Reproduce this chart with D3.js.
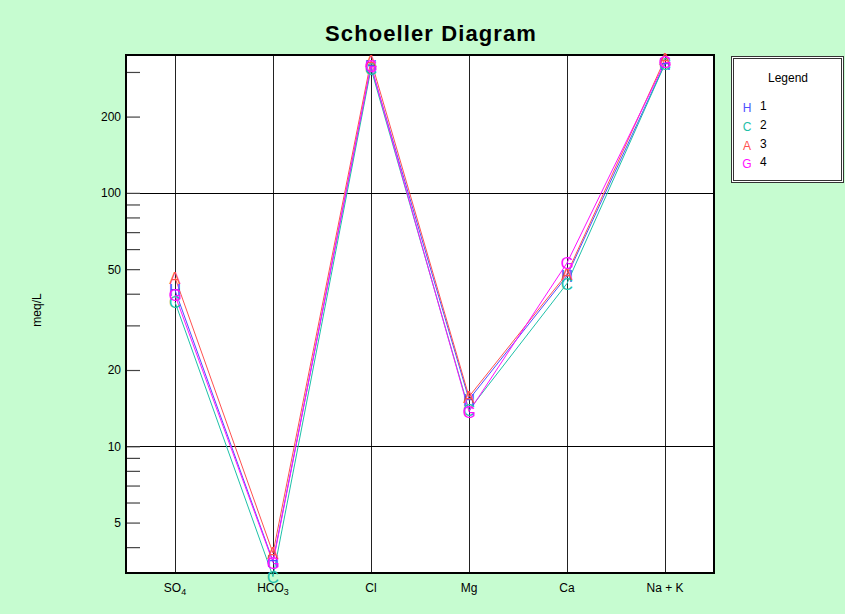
<!DOCTYPE html>
<html>
<head>
<meta charset="utf-8">
<script src="https://cdn.jsdelivr.net/npm/d3@7"></script>
<style>
  html, body { margin: 0; padding: 0; background: #c6fcd0; }
  svg { display: block; font-family: "Liberation Sans", Arial, sans-serif; }
</style>
</head>
<body>
<svg id="chart" width="845" height="614"></svg>
<script>
// ---- data ----
const categories = ["SO4", "HCO3", "Cl", "Mg", "Ca", "Na + K"];
const categoryMain = ["SO", "HCO", "Cl", "Mg", "Ca", "Na + K"];
const categorySub = ["4", "3", "", "", "", ""];
const seriesNames = ["1", "2", "3", "4"];
const seriesMarkers = ["H", "C", "A", "G"];
const seriesColors = ["#4f4fff", "#1ec0a8", "#ff5050", "#ff10ff"];
const series1 = [41.3, 3.52, 316, 15.3, 47.0, 324];
const series2 = [37.1, 3.06, 309, 13.9, 43.9, 323];
const series3 = [46.3, 3.79, 333, 15.7, 48.0, 338];
const series4 = [39.5, 3.48, 318, 13.7, 52.9, 328];
const allSeries = [series1, series2, series3, series4];
const tickValues = [4, 5, 6, 7, 8, 9, 10, 20, 30, 40, 50, 60, 70, 80, 90, 100, 200, 300];
const labeledTicks = [5, 10, 20, 50, 100, 200];
const gridValues = [10, 100];
const yDomain = [Math.sqrt(10), 350];

// ---- layout ----
const svg = d3.select("#chart");
const plot = { left: 126, right: 714, top: 55, bottom: 573 };

const x = d3.scalePoint().domain(categories).range([plot.left, plot.right]).padding(0.5);
const y = d3.scaleLog().domain(yDomain).range([plot.bottom, plot.top]);

// background
svg.append("rect").attr("x", 0).attr("y", 0).attr("width", 845).attr("height", 614).attr("fill", "#c6fcd0");

// plot area
svg.append("rect")
  .attr("x", plot.left).attr("y", plot.top)
  .attr("width", plot.right - plot.left).attr("height", plot.bottom - plot.top)
  .attr("fill", "#ffffff");

// vertical grid lines
svg.append("g").selectAll("line").data(categories).join("line")
  .attr("x1", d => Math.round(x(d)) + 0.5).attr("x2", d => Math.round(x(d)) + 0.5)
  .attr("y1", plot.top).attr("y2", plot.bottom)
  .attr("stroke", "#222").attr("stroke-width", 1);

// horizontal grid lines
svg.append("g").selectAll("line").data(gridValues).join("line")
  .attr("x1", plot.left).attr("x2", plot.right)
  .attr("y1", d => Math.round(y(d)) + 0.5).attr("y2", d => Math.round(y(d)) + 0.5)
  .attr("stroke", "#000").attr("stroke-width", 1);

// y axis
const yAxis = d3.axisLeft(y)
  .tickValues(tickValues)
  .tickSizeInner(-14)
  .tickSizeOuter(0)
  .tickPadding(5)
  .tickFormat(d => labeledTicks.includes(d) ? String(d) : "");
const gy = svg.append("g").attr("transform", `translate(${plot.left},0)`).call(yAxis);
gy.select(".domain").remove();
gy.selectAll(".tick line").attr("stroke", "#444").attr("stroke-width", 1.2);
gy.selectAll(".tick text").attr("fill", "#000").attr("font-size", 12)
  .attr("font-family", "'Liberation Sans', Arial, sans-serif");

// x axis labels
const xl = svg.append("g").selectAll("text").data(categories).join("text")
  .attr("x", d => x(d)).attr("y", 592)
  .attr("text-anchor", "middle").attr("font-size", 12).attr("fill", "#000");
xl.append("tspan").text((d, i) => categoryMain[i]);
xl.append("tspan").attr("font-size", 9).attr("dy", 3).text((d, i) => categorySub[i]);

// plot border
svg.append("rect")
  .attr("x", plot.left).attr("y", plot.top)
  .attr("width", plot.right - plot.left).attr("height", plot.bottom - plot.top)
  .attr("fill", "none").attr("stroke", "#000").attr("stroke-width", 2);

// series lines
const line = d3.line().x((d, i) => x(categories[i])).y(d => y(d));
allSeries.forEach((s, k) => {
  svg.append("path").datum(s)
    .attr("d", line)
    .attr("fill", "none")
    .attr("stroke", seriesColors[k])
    .attr("stroke-width", 1);
});
// series markers
allSeries.forEach((s, k) => {
  svg.append("g").selectAll("text").data(s).join("text")
    .attr("x", (d, i) => x(categories[i]))
    .attr("y", d => y(d))
    .attr("dy", "0.36em")
    .attr("text-anchor", "middle")
    .attr("font-size", 17)
    .attr("fill", seriesColors[k])
    .text(seriesMarkers[k]);
});

// title
svg.append("text")
  .attr("x", 431).attr("y", 41)
  .attr("text-anchor", "middle")
  .attr("font-size", 22).attr("font-weight", "bold")
  .attr("letter-spacing", 1.1)
  .attr("fill", "#000")
  .text("Schoeller Diagram");

// y label
svg.append("text")
  .attr("transform", "translate(41,310) rotate(-90)")
  .attr("text-anchor", "middle")
  .attr("font-size", 12).attr("fill", "#000")
  .text("meq/L");

// legend
const lg = svg.append("g");
lg.append("rect").attr("x", 731.5).attr("y", 56.5).attr("width", 112).attr("height", 126)
  .attr("fill", "#fff").attr("stroke", "#333").attr("stroke-width", 1);
lg.append("rect").attr("x", 733.5).attr("y", 58.5).attr("width", 108).attr("height", 122)
  .attr("fill", "none").attr("stroke", "#333").attr("stroke-width", 1);
lg.append("text").attr("x", 788).attr("y", 82).attr("text-anchor", "middle")
  .attr("font-size", 12).attr("fill", "#000").text("Legend");
seriesNames.forEach((name, k) => {
  const yy = 108 + k * 18.7;
  lg.append("text").attr("x", 747).attr("y", yy).attr("dy", "0.36em")
    .attr("text-anchor", "middle").attr("font-size", 12)
    .attr("fill", seriesColors[k]).text(seriesMarkers[k]);
  lg.append("text").attr("x", 760).attr("y", yy - 2).attr("dy", "0.36em")
    .attr("font-size", 12).attr("fill", "#000").text(name);
});
</script>
</body>
</html>
